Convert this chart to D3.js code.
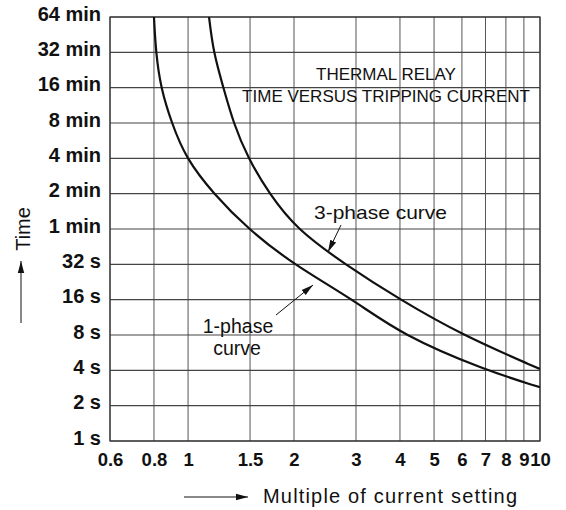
<!DOCTYPE html>
<html><head><meta charset="utf-8">
<script src="https://cdn.jsdelivr.net/npm/d3@7"></script>
<style>
html,body{margin:0;padding:0;background:#fff;}
svg{display:block;font-family:"Liberation Sans",Arial,Helvetica,sans-serif;}
</style></head>
<body>
<svg id="chart" width="566" height="510"></svg>
<script>
// ---- data ----
const xTicks = [0.6, 0.8, 1, 1.5, 2, 3, 4, 5, 6, 7, 8, 9, 10];
const xTickLabels = ["0.6", "0.8", "1", "1.5", "2", "3", "4", "5", "6", "7", "8", "9", "10"];
// time axis is drawn in doubling steps; 1 min sits one step above 32 s
const yTicks = [1, 2, 4, 8, 16, 32, 64, 128, 256, 512, 1024, 2048, 4096];
const yTickLabels = ["1 s", "2 s", "4 s", "8 s", "16 s", "32 s", "1 min", "2 min", "4 min", "8 min", "16 min", "32 min", "64 min"];

const threePhaseX = [1.147, 1.18, 1.26, 1.345, 1.48, 1.70, 2.03, 2.79, 4.0, 6.0, 10];
const threePhaseT = [4096, 2048, 1024, 512, 256, 128, 64, 32, 16, 8, 4.1];
const onePhaseX = [0.80, 0.81, 0.836, 0.898, 0.986, 1.18, 1.48, 1.99, 2.95, 4.05, 7.0, 10];
const onePhaseT = [4096, 2048, 1024, 512, 256, 128, 64, 32, 16, 8, 4, 2.87];

const titleLines = ["THERMAL RELAY", "TIME VERSUS TRIPPING CURRENT"];
const xAxisTitle = "Multiple of current setting";
const yAxisTitle = "Time";

// ---- layout ----
const svg = d3.select("#chart");
const L = 110, R = 540, T = 17, B = 441;
const x = d3.scaleLog().domain([0.6, 10]).range([L, R]);
const y = d3.scaleLog().base(2).domain([1, 4096]).range([B, T]);

svg.append("defs").append("clipPath").attr("id", "clip")
  .append("rect").attr("x", L).attr("y", T).attr("width", R - L).attr("height", B - T);
const mk = svg.select("defs").append("marker").attr("id", "ah")
  .attr("viewBox", "0 0 12 10").attr("refX", 12).attr("refY", 5)
  .attr("markerWidth", 12).attr("markerHeight", 10).attr("markerUnits", "userSpaceOnUse")
  .attr("orient", "auto");
mk.append("path").attr("d", "M0,1.8 L12,5 L0,8.2 Z").attr("fill", "#111");

// grid
const g = svg.append("g");
g.selectAll("line.v").data(xTicks).join("line")
  .attr("x1", d => x(d)).attr("x2", d => x(d)).attr("y1", T).attr("y2", B)
  .attr("stroke", "#555").attr("stroke-width", 1);
g.selectAll("line.h").data(yTicks).join("line")
  .attr("x1", L).attr("x2", R).attr("y1", d => y(d)).attr("y2", d => y(d))
  .attr("stroke", "#444").attr("stroke-width", 1.1);
svg.append("rect").attr("x", L).attr("y", T).attr("width", R - L).attr("height", B - T)
  .attr("fill", "none").attr("stroke", "#333").attr("stroke-width", 1.2);

// axes via d3 axis generators
const xAxis = d3.axisBottom(x).tickValues(xTicks).tickSize(0).tickPadding(12)
  .tickFormat((d, i) => xTickLabels[i]);
svg.append("g").attr("transform", `translate(0,${B})`).call(xAxis)
  .call(s => s.select(".domain").remove())
  .selectAll("text").attr("font-size", 18.5).attr("font-weight", "bold")
  .attr("fill", "#111").attr("font-family", "Liberation Sans, Arial, sans-serif");

const yAxis = d3.axisLeft(y).tickValues(yTicks).tickSize(0).tickPadding(9)
  .tickFormat((d, i) => yTickLabels[i]);
svg.append("g").attr("transform", `translate(${L},0)`).call(yAxis)
  .call(s => s.select(".domain").remove())
  .selectAll("text").attr("font-size", 20).attr("font-weight", "bold")
  .attr("fill", "#111").attr("dy", "0.15em")
  .attr("font-family", "Liberation Sans, Arial, sans-serif");

// curves
const line = d3.line().x(d => x(d[0])).y(d => y(d[1])).curve(d3.curveBasis);
const curves = [
  d3.zip(threePhaseX, threePhaseT),
  d3.zip(onePhaseX, onePhaseT)
];
svg.append("g").attr("clip-path", "url(#clip)").selectAll("path").data(curves).join("path")
  .attr("d", line).attr("fill", "none").attr("stroke", "#111").attr("stroke-width", 2.2);

// title
svg.append("g").selectAll("text").data(titleLines).join("text")
  .attr("x", 386).attr("y", (d, i) => 80 + i * 22)
  .attr("text-anchor", "middle").attr("font-size", 17).attr("fill", "#111")
  .text(d => d);

// annotations
svg.append("text").attr("x", 314).attr("y", 219).attr("font-size", 19).attr("fill", "#111")
  .attr("textLength", 133).attr("lengthAdjust", "spacingAndGlyphs")
  .text("3-phase curve");
svg.append("text").attr("x", 238).attr("y", 333).attr("text-anchor", "middle")
  .attr("font-size", 19.5).attr("fill", "#111").text("1-phase");
svg.append("text").attr("x", 237).attr("y", 355).attr("text-anchor", "middle")
  .attr("font-size", 19.5).attr("fill", "#111").text("curve");
svg.append("line").attr("x1", 341).attr("y1", 225).attr("x2", 328).attr("y2", 252)
  .attr("stroke", "#111").attr("stroke-width", 1).attr("marker-end", "url(#ah)");
svg.append("line").attr("x1", 276).attr("y1", 315).attr("x2", 313).attr("y2", 285)
  .attr("stroke", "#111").attr("stroke-width", 1).attr("marker-end", "url(#ah)");

// axis titles with arrows
svg.append("text").attr("x", 263).attr("y", 503).attr("font-size", 20).attr("fill", "#111")
  .attr("textLength", 254).attr("lengthAdjust", "spacing")
  .text(xAxisTitle);
svg.append("line").attr("x1", 184).attr("y1", 497).attr("x2", 248).attr("y2", 497)
  .attr("stroke", "#111").attr("stroke-width", 1).attr("marker-end", "url(#ah)");
svg.append("text").attr("transform", "translate(30,229) rotate(-90)")
  .attr("text-anchor", "middle").attr("font-size", 20).attr("fill", "#111")
  .text(yAxisTitle);
svg.append("line").attr("x1", 21).attr("y1", 323).attr("x2", 21).attr("y2", 261)
  .attr("stroke", "#111").attr("stroke-width", 1).attr("marker-end", "url(#ah)");
</script>
</body></html>
